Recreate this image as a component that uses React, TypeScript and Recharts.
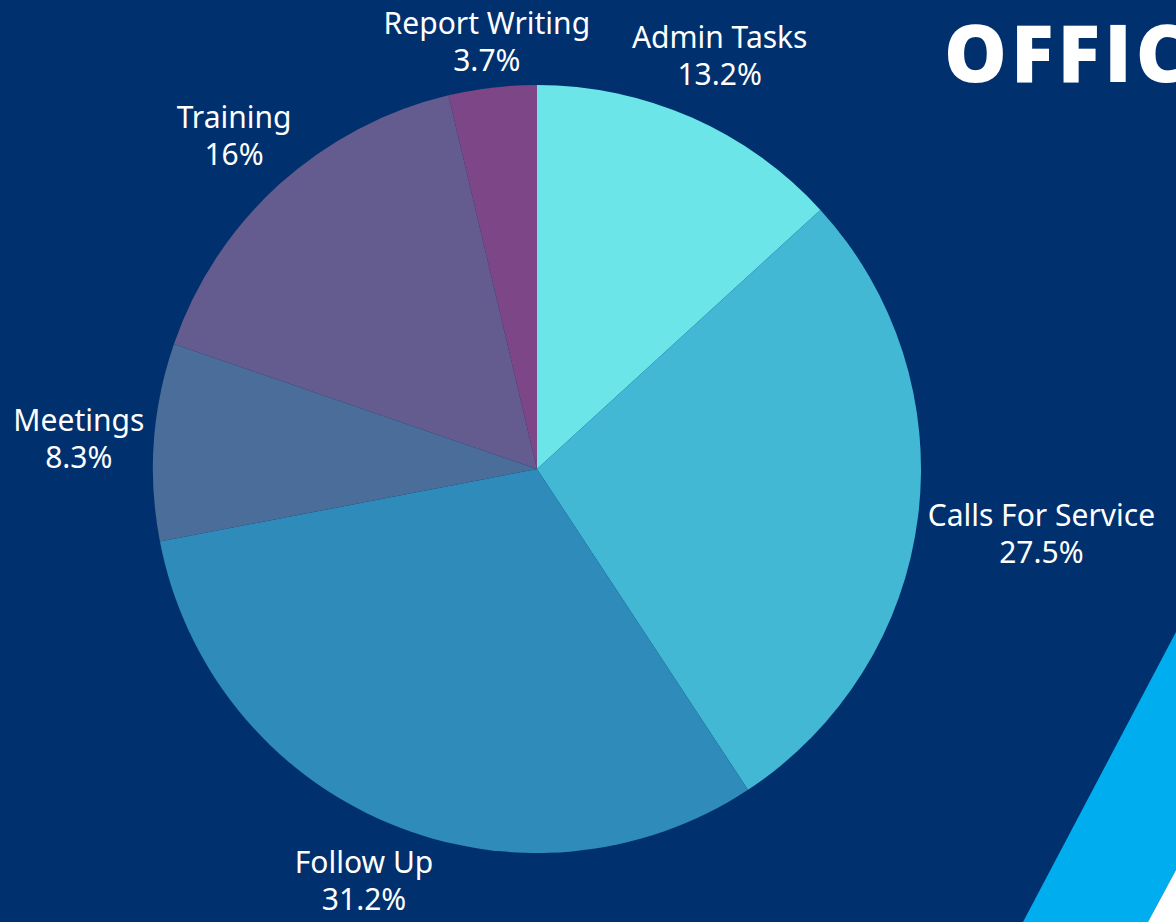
import { PieChart, Pie, Cell } from "recharts"

const categories = ["Admin Tasks", "Calls For Service", "Follow Up", "Meetings", "Training", "Report Writing"]
const shares = [13.2, 27.5, 31.2, 8.3, 16, 3.7]
const COLORS = ["#6ce5e8", "#42b8d5", "#2e8bba", "#4a6d9a", "#645b8f", "#7d4787"]

const data = categories.map((name, i) => ({ name, value: shares[i] }))

const FONT = 30
const LABEL_FONT = `${FONT}px 'Noto Sans', sans-serif`
const RADIAN = Math.PI / 180

// measure label width so the box can sit just outside the rim
let ctx: CanvasRenderingContext2D | null = null
const textWidth = (s: string) => {
    if (!ctx) ctx = document.createElement("canvas").getContext("2d")
    if (!ctx) return s.length * FONT * 0.5
    ctx.font = LABEL_FONT
    return ctx.measureText(s).width
}

const renderLabel = (props: any) => {
    const { cx, cy, midAngle, outerRadius, name, value } = props
    const dx = Math.cos(-midAngle * RADIAN)
    const dy = Math.sin(-midAngle * RADIAN)
    const w = Math.max(textWidth(name), textWidth(`${value}%`))
    const h = 56
    const dist = outerRadius + 8 + Math.abs(dx) * w / 2 + Math.abs(dy) * h / 2
    const x = cx + dx * dist
    const y = cy + dy * dist
    return (
        <text x={x} y={y} textAnchor="middle" fill="#ffffff" fontSize={FONT}
            fontFamily="'Noto Sans', sans-serif">
            <tspan x={x} y={y - 6}>{name}</tspan>
            <tspan x={x} y={y + 31}>{value}%</tspan>
        </text>
    )
}

export default function App() {
    return (
        <div style={{ position: "fixed", left: 0, top: 0, width: 1176, height: 922, overflow: "hidden", background: "#00306e" }}>
            <svg width={1176} height={922} style={{ position: "absolute", left: 0, top: 0 }}>
                <polygon points="1176,632 1023,922 1148,922 1176,870" fill="#00aeef" />
                <polygon points="1176,870 1148,922 1176,922" fill="#ffffff" />
            </svg>
            <div style={{
                position: "absolute", left: 944, top: 0, lineHeight: "104px", whiteSpace: "nowrap",
                color: "#ffffff", fontFamily: "'Open Sans', sans-serif", fontWeight: 800, fontSize: 79,
                letterSpacing: 4
            }}>
                OFFICER
            </div>
            <div style={{ position: "absolute", left: 0, top: 0 }}>
                <PieChart width={1176} height={922}>
                    <Pie
                        data={data}
                        dataKey="value"
                        nameKey="name"
                        cx={532}
                        cy={464}
                        outerRadius={384}
                        startAngle={90}
                        endAngle={-270}
                        stroke="none"
                        label={renderLabel}
                        labelLine={false}
                        isAnimationActive={false}
                    >
                        {data.map((_, i) => (
                            <Cell key={i} fill={COLORS[i % COLORS.length]} />
                        ))}
                    </Pie>
                </PieChart>
            </div>
        </div>
    )
}
